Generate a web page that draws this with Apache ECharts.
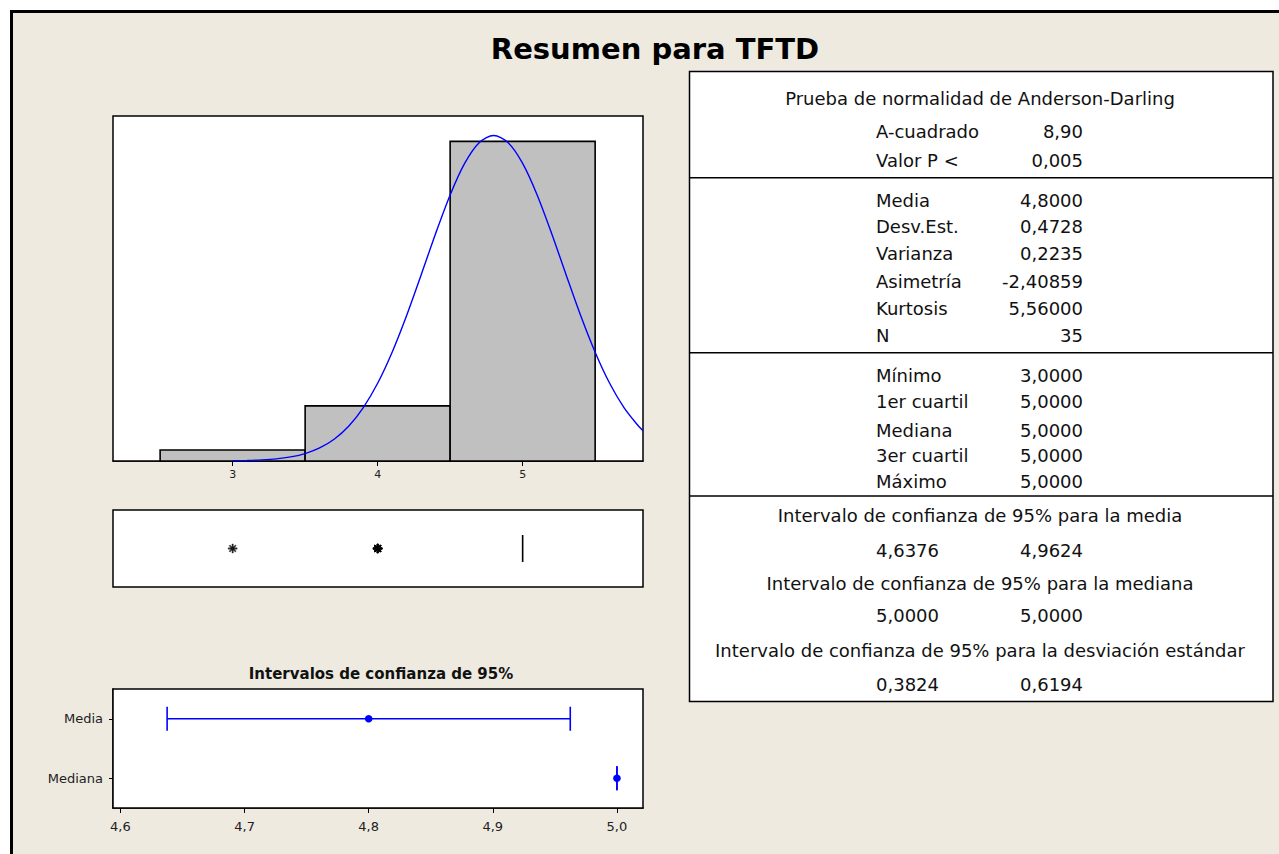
<!DOCTYPE html>
<html><head><meta charset="utf-8">
<script src="https://cdn.jsdelivr.net/npm/echarts@6/dist/echarts.min.js"></script>
<style>html,body{margin:0;padding:0;background:#fff}#c{width:1279px;height:854px}</style>
</head><body><div id="c"></div>
<script>
// ---- data ----
const binStart = [2.5, 3.5, 4.5];
const binEnd = [3.5, 4.5, 5.5];
const binCounts = [1, 5, 29];
const histTicks = [3, 4, 5];
const curveX = [3.0,3.1,3.2,3.3,3.4,3.5,3.6,3.7,3.8,3.9,4.0,4.1,4.2,4.3,4.4,4.5,4.6,4.7,4.8,4.9,5.0,5.1,5.2,5.3,5.4,5.5,5.6,5.7,5.8,5.83];
const curveY = [0.02,0.05,0.10,0.19,0.37,0.67,1.18,1.97,3.15,4.82,7.05,9.87,13.2,16.88,20.64,24.14,27.0,28.88,29.53,28.88,27.0,24.14,20.64,16.88,13.2,9.87,7.05,4.82,3.15,2.75];
const boxStats = [5, 5, 5, 5, 5]; // min, Q1, median, Q3, max
const outliers = [3, 4, 4, 4, 4, 4];
const ciLabels = ['Media', 'Mediana'];
const ciLow = [4.6376, 5.0];
const ciMid = [4.8, 5.0];
const ciHigh = [4.9624, 5.0];
const ciTicks = [4.6, 4.7, 4.8, 4.9, 5.0];
const mainTitle = 'Resumen para TFTD';
const ciTitle = 'Intervalos de confianza de 95%';
const adTitle = 'Prueba de normalidad de Anderson-Darling';
const adRows = [['A-cuadrado', '8,90'], ['Valor P <', '0,005']];
const descRows = [['Media', '4,8000'], ['Desv.Est.', '0,4728'], ['Varianza', '0,2235'], ['Asimetría', '-2,40859'], ['Kurtosis', '5,56000'], ['N', '35']];
const quantRows = [['Mínimo', '3,0000'], ['1er cuartil', '5,0000'], ['Mediana', '5,0000'], ['3er cuartil', '5,0000'], ['Máximo', '5,0000']];
const ciBlocks = [
  ['Intervalo de confianza de 95% para la media', '4,6376', '4,9624'],
  ['Intervalo de confianza de 95% para la mediana', '5,0000', '5,0000'],
  ['Intervalo de confianza de 95% para la desviación estándar', '0,3824', '0,6194']
];

// ---- chart ----
const FONT = 'DejaVu Sans';
const TXT = '#111';
const chart = echarts.init(document.getElementById('c'), null, {renderer: 'svg', width: 1279, height: 854});

const graphics = [];
graphics.push({type: 'rect', z: -100, shape: {x: 11.5, y: 11.5, width: 1400, height: 1000}, style: {fill: '#EEEAE0', stroke: '#000', lineWidth: 3}});
// stats table
const TL = 689.5, TR = 1273, TT = 71.5, TB = 701.5;
graphics.push({type: 'rect', z: 1, shape: {x: TL, y: TT, width: TR - TL, height: TB - TT}, style: {fill: '#fff', stroke: '#000', lineWidth: 1.5}});
[177.7, 352.7, 496].forEach(y => graphics.push({type: 'line', z: 2, shape: {x1: TL, y1: y, x2: TR, y2: y}, style: {stroke: '#000', lineWidth: 1.5}}));
function txt(t, x, y, align) {
  graphics.push({type: 'text', z: 3, x: x, y: y, style: {text: t, font: '18px "' + FONT + '"', fill: TXT, textAlign: align, textVerticalAlign: 'middle', align: align, verticalAlign: 'middle'}});
}
const LX = 876, VX = 1083, CX = 980;
txt(adTitle, CX, 98, 'center');
const adY = [131.7, 160];
adRows.forEach((r, i) => { txt(r[0], LX, adY[i], 'left'); txt(r[1], VX, adY[i], 'right'); });
const descY = [200, 226.7, 253.3, 281.7, 308.3, 335.7];
descRows.forEach((r, i) => { txt(r[0], LX, descY[i], 'left'); txt(r[1], VX, descY[i], 'right'); });
const quantY = [375, 401.7, 430, 455, 481];
quantRows.forEach((r, i) => { txt(r[0], LX, quantY[i], 'left'); txt(r[1], VX, quantY[i], 'right'); });
const ciHeadY = [515, 583, 650], ciValY = [550, 615.7, 684];
ciBlocks.forEach((b, i) => { txt(b[0], CX, ciHeadY[i], 'center'); txt(b[1], LX, ciValY[i], 'left'); txt(b[2], VX, ciValY[i], 'right'); });

const asterisk = 'path://M-0.6,-4L0.6,-4L0.6,4L-0.6,4Z M-4,-0.6L4,-0.6L4,0.6L-4,0.6Z M-2.38,-3.22L3.22,2.38L2.38,3.22L-3.22,-2.38Z M2.38,-3.22L3.22,-2.38L-2.38,3.22L-3.22,2.38Z';
const comma = v => (Math.round(v * 10) / 10).toFixed(1).replace('.', ',');

const option = {
  backgroundColor: '#fff',
  animation: false,
  title: [
    {text: mainTitle, left: 650, top: 29, textAlign: 'center', textStyle: {fontFamily: FONT, fontWeight: 'bold', fontSize: 29, color: '#000'}},
    {text: ciTitle, left: 376, top: 661, textAlign: 'center', textStyle: {fontFamily: FONT, fontWeight: 'bold', fontSize: 15, color: '#111'}}
  ],
  graphic: {elements: graphics},
  grid: [
    {left: 113, top: 116, width: 530, height: 345, show: true, backgroundColor: '#fff', borderColor: '#000', borderWidth: 1.5, z: 1},
    {left: 113, top: 510, width: 530, height: 77, show: true, backgroundColor: '#fff', borderColor: '#000', borderWidth: 1.5, z: 1},
    {left: 113, top: 689, width: 530, height: 119, show: true, backgroundColor: '#fff', borderColor: '#000', borderWidth: 1.5, z: 1}
  ],
  xAxis: [
    {gridIndex: 0, type: 'value', min: 2.175, max: 5.83, splitLine: {show: false},
     axisLine: {show: true, onZero: false, lineStyle: {color: '#000', width: 1.5}},
     axisTick: {show: true, inside: false, length: 5, customValues: histTicks, lineStyle: {color: '#000'}},
     axisLabel: {customValues: histTicks, fontFamily: FONT, fontSize: 11, color: '#222', margin: 8}},
    {gridIndex: 1, type: 'value', min: 2.175, max: 5.83, show: false, splitLine: {show: false}},
    {gridIndex: 2, type: 'value', min: 4.594, max: 5.021, splitLine: {show: false},
     axisLine: {show: true, onZero: false, lineStyle: {color: '#000', width: 1.5}},
     axisTick: {show: true, inside: false, length: 5, customValues: ciTicks, lineStyle: {color: '#000'}},
     axisLabel: {customValues: ciTicks, formatter: comma, fontFamily: FONT, fontSize: 13, color: '#222', margin: 12}}
  ],
  yAxis: [
    {gridIndex: 0, type: 'value', min: 0, max: 31.3, show: false, splitLine: {show: false}},
    {gridIndex: 1, type: 'category', data: ['TFTD'], show: false},
    {gridIndex: 2, type: 'category', data: ciLabels, inverse: true,
     axisLine: {show: true, lineStyle: {color: '#000', width: 1.5}},
     axisTick: {show: true, alignWithLabel: true, length: 4, lineStyle: {color: '#000'}},
     axisLabel: {fontFamily: FONT, fontSize: 13, color: '#222', margin: 10}}
  ],
  series: [
    {type: 'custom', xAxisIndex: 0, yAxisIndex: 0, z: 3,
     data: binCounts.map((c, i) => [binStart[i], binEnd[i], c]),
     encode: {x: [0, 1], y: 2},
     renderItem: (params, api) => {
       const p0 = api.coord([api.value(0), api.value(2)]);
       const p1 = api.coord([api.value(1), 0]);
       return {type: 'rect', shape: {x: p0[0], y: p0[1], width: p1[0] - p0[0], height: p1[1] - p0[1]},
               style: {fill: '#C0C0C0', stroke: '#000', lineWidth: 1.6}};
     }},
    {type: 'line', xAxisIndex: 0, yAxisIndex: 0, z: 4, smooth: 0.3, showSymbol: false, symbol: 'none',
     data: curveX.map((x, i) => [x, curveY[i]]),
     lineStyle: {color: '#0000FF', width: 1.4}},
    {type: 'boxplot', xAxisIndex: 1, yAxisIndex: 1, z: 3, data: [boxStats], boxWidth: [27, 27],
     itemStyle: {color: 'transparent', borderColor: '#000', borderWidth: 1.6}},
    {type: 'scatter', xAxisIndex: 1, yAxisIndex: 1, z: 4, symbol: asterisk, symbolSize: 9,
     data: outliers.map(v => [v, 0]),
     itemStyle: {color: '#000', borderColor: '#000', borderWidth: 0.4}},
    {type: 'custom', xAxisIndex: 2, yAxisIndex: 2, z: 4,
     data: ciLabels.map((l, i) => [ciLow[i], ciMid[i], ciHigh[i], i]),
     encode: {x: [0, 1, 2], y: 3},
     renderItem: (params, api) => {
       const idx = api.value(3);
       const lo = api.coord([api.value(0), idx]);
       const mid = api.coord([api.value(1), idx]);
       const hi = api.coord([api.value(2), idx]);
       const h = 12;
       const st = {stroke: '#0000FF', lineWidth: 1.6};
       return {type: 'group', children: [
         {type: 'line', shape: {x1: lo[0], y1: lo[1], x2: hi[0], y2: hi[1]}, style: st},
         {type: 'line', shape: {x1: lo[0], y1: lo[1] - h, x2: lo[0], y2: lo[1] + h}, style: st},
         {type: 'line', shape: {x1: hi[0], y1: hi[1] - h, x2: hi[0], y2: hi[1] + h}, style: st},
         {type: 'circle', shape: {cx: mid[0], cy: mid[1], r: 3.8}, style: {fill: '#0000FF'}}
       ]};
     }}
  ]
};
chart.setOption(option);
</script>
</body></html>
